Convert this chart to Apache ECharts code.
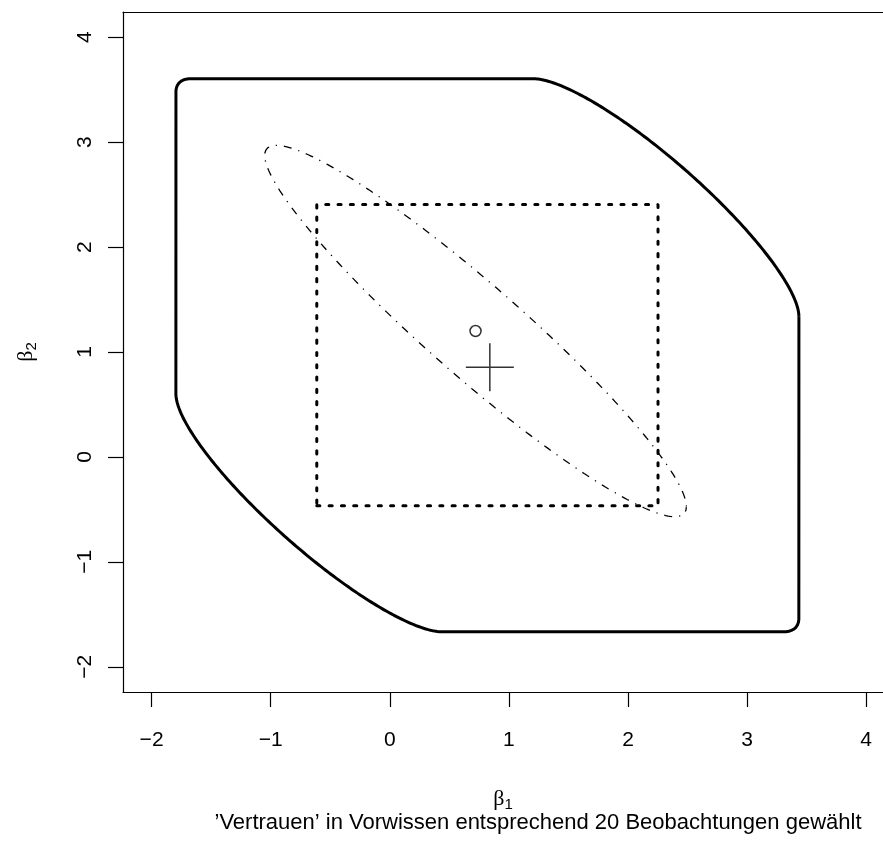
<!DOCTYPE html>
<html>
<head>
<meta charset="utf-8">
<script src="https://cdn.jsdelivr.net/npm/echarts@6/dist/echarts.min.js"></script>
<style>
  html, body { margin: 0; padding: 0; background: #fff; }
  #chart { width: 883px; height: 841px; }
</style>
</head>
<body>
<div id="chart"></div>
<script>
// Tick positions on both axes
const xTicks = [-2, -1, 0, 1, 2, 3, 4];
const yTicks = [-2, -1, 0, 1, 2, 3, 4];

// Prior box for beta1 and beta2
const boxBeta1 = [-0.613, 2.252];
const boxBeta2 = [-0.466, 2.405];

// Point estimates
const posteriorMean = [0.72, 1.2];   // small circle, centre of the ellipse
const olsEstimate = [0.84, 0.855];   // plus sign

// Confidence ellipse: half extents along beta1 / beta2 and correlation
const ellipseHalf = [1.77, 1.77];
const ellipseRho = -0.945;

// Ellipse swept around the prior box to give the outer region
const spreadHalf = [1.183, 1.2];
const spreadRho = -0.89;

// Point on a correlated ellipse (centred at origin), parameter t
function ellipsePoint(half, rho, t) {
  const phi = Math.acos(rho);
  return [half[0] * Math.cos(t), half[1] * Math.cos(t - phi)];
}
// Outward normal of that ellipse at parameter t
function ellipseNormal(half, rho, t) {
  const phi = Math.acos(rho);
  return [-half[1] * Math.sin(t - phi), half[0] * Math.sin(t)];
}

const STEPS = 720;

// Confidence ellipse outline
const ellipsePath = [];
for (let i = 0; i <= STEPS; i++) {
  const t = 2 * Math.PI * i / STEPS;
  const p = ellipsePoint(ellipseHalf, ellipseRho, t);
  ellipsePath.push([posteriorMean[0] + p[0], posteriorMean[1] + p[1]]);
}

// Outer region: prior box swept by the spread ellipse (closed polygon)
const outerPath = [];
for (let i = 0; i < STEPS; i++) {
  const t = 2 * Math.PI * (i + 0.5) / STEPS;
  const p = ellipsePoint(spreadHalf, spreadRho, t);
  const n = ellipseNormal(spreadHalf, spreadRho, t);
  const cx = n[0] >= 0 ? boxBeta1[1] : boxBeta1[0];
  const cy = n[1] >= 0 ? boxBeta2[1] : boxBeta2[0];
  outerPath.push([cx + p[0], cy + p[1]]);
}
outerPath.push(outerPath[0].slice());

// Prior box outline
const boxPath = [
  [boxBeta1[0], boxBeta2[0]],
  [boxBeta1[1], boxBeta2[0]],
  [boxBeta1[1], boxBeta2[1]],
  [boxBeta1[0], boxBeta2[1]],
  [boxBeta1[0], boxBeta2[0]]
];

const SANS = '"Liberation Sans", Arial, Helvetica, sans-serif';
const SERIF = '"Liberation Serif", "DejaVu Serif", serif';
const fmt = v => (v < 0 ? '\u2212' + Math.abs(v) : String(v));

const greekRich = {
  b: { fontFamily: SERIF, fontSize: 22, color: '#000' },
  s: { fontFamily: SANS, fontSize: 15, color: '#000', padding: [10, 0, 0, 0] }
};

const frameLine = { show: true, onZero: false, lineStyle: { color: '#000', width: 1.2 } };

const chart = echarts.init(document.getElementById('chart'), null, { renderer: 'canvas' });
chart.setOption({
  animation: false,
  backgroundColor: '#fff',
  grid: { left: 123, top: 12, right: 0, bottom: 149, show: false },
  xAxis: [{
    type: 'value', min: -2.24, max: 4.141, position: 'bottom',
    axisLine: frameLine,
    splitLine: { show: false },
    axisTick: { show: true, length: 15, customValues: xTicks, lineStyle: { color: '#000', width: 1.2 } },
    axisLabel: { customValues: xTicks, formatter: fmt, fontSize: 21, color: '#000', fontFamily: SANS, margin: 38 },
    name: '{b|β}{s|1}', nameLocation: 'middle', nameGap: 95,
    nameTextStyle: { rich: greekRich }
  }, {
    type: 'value', min: -2.24, max: 4.141, position: 'top',
    axisLine: frameLine,
    splitLine: { show: false }, axisTick: { show: false }, axisLabel: { show: false }
  }],
  yAxis: {
    type: 'value', min: -2.24, max: 4.24,
    axisLine: frameLine,
    splitLine: { show: false },
    axisTick: { show: true, length: 15, customValues: yTicks, lineStyle: { color: '#000', width: 1.2 } },
    axisLabel: { customValues: yTicks, formatter: fmt, fontSize: 21, color: '#000', fontFamily: SANS, margin: 27, rotate: 90 },
    name: '{b|β}{s|2}', nameLocation: 'middle', nameGap: 84, nameRotate: 90,
    nameTextStyle: { rich: greekRich }
  },
  graphic: [{
    type: 'text',
    x: 538,
    y: 812,
    style: {
      text: '\u2019Vertrauen\u2019 in Vorwissen entsprechend 20 Beobachtungen gew\u00e4hlt',
      font: '22px ' + SANS,
      fill: '#000',
      align: 'center',
      verticalAlign: 'top'
    }
  }],
  series: [
    {
      type: 'line', data: outerPath, showSymbol: false, silent: true,
      lineStyle: { color: '#000', width: 3, join: 'round' }
    },
    {
      type: 'line', data: boxPath, showSymbol: false, silent: true,
      lineStyle: { color: '#000', width: 3, type: [3.1, 9.2], cap: 'round' }
    },
    {
      type: 'line', data: ellipsePath, showSymbol: false, silent: true,
      lineStyle: { color: '#000', width: 1.3, type: [1.2, 7, 8, 7] }
    },
    {
      type: 'scatter', data: [posteriorMean], symbol: 'circle', symbolSize: 11, silent: true,
      itemStyle: { color: 'rgba(0,0,0,0)', borderColor: '#000', borderWidth: 1.5 }
    },
    {
      type: 'scatter', data: [olsEstimate], symbol: 'path://M24 0V48M0 24H48', symbolSize: 48, silent: true,
      itemStyle: { color: 'none', borderColor: '#000', borderWidth: 1.5 }
    }
  ]
});
</script>
</body>
</html>
